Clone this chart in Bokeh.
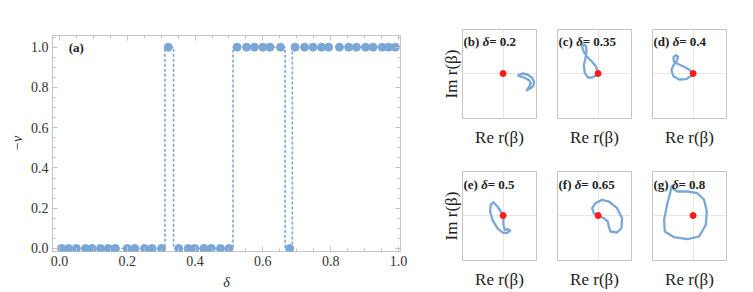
from bokeh.plotting import figure
from bokeh.layouts import row, column
from bokeh.models import (Range1d, LinearAxis, FixedTicker, Label, SingleIntervalTicker,
                          PrintfTickFormatter, CustomJSTickFormatter)
from bokeh.embed import file_html
from bokeh.resources import INLINE

# ---------------- data ----------------
delta = [0.006, 0.027, 0.05, 0.077, 0.096, 0.121, 0.144, 0.165, 0.2, 0.222, 0.251, 0.273, 0.301,
         0.321,
         0.352, 0.38, 0.399, 0.426, 0.448, 0.475, 0.5,
         0.524, 0.552, 0.575, 0.6, 0.621, 0.652,
         0.679,
         0.695, 0.723, 0.748, 0.773, 0.794, 0.826, 0.853, 0.876, 0.903, 0.925, 0.952, 0.971, 0.991]
minus_nu = [0] * 13 + [1] + [0] * 7 + [1] * 6 + [0] + [1] * 13

tick_step = 0.2

# r(beta) curves (Re, Im), arbitrary units
b_re = [15, 19.3, 24.3, 28.7, 31, 30, 26.7, 23.7, 26, 27.7, 26, 21, 16, 15]
b_im = [-1.7, 0, -1, -4, -8.3, -12.7, -15.3, -16.7, -13.3, -10, -6.7, -4, -2.7, -1.7]

c_re = [0, -2, -6, -11, -14.3, -16, -14.3, -12, -11.7, -12.7, -14.3, -13.3, -10.3, -6, -1.7, 0]
c_im = [0, 6.7, 11.7, 16.7, 21.7, 26.7, 29, 27.3, 21.7, 15, 8.3, 0.7, -4, -4, -1.7, 0]

d_re = [0, -4, -9, -14, -19, -19.7, -17.3, -15, -16.3, -19.7, -21.7, -19.7, -14, -7.3, -2.3, 0]
d_im = [0, 4, 6.7, 9, 11.7, 16, 18.3, 16.7, 12.7, 8.3, 3.3, -2.7, -6, -5.7, -2.7, 0]

e_re = [0, -2.3, -5.7, -9.7, -12.3, -13, -10.7, -5.7, -0.7, 3.7, 7, 5, 1.7, 0.3, 0.3, 0]
e_im = [0, 4, 9, 13.3, 10.7, 4, -4.3, -12.7, -17, -17.7, -15, -13.7, -14.3, -9.3, -2.7, 0]

f_re = [0, -4.3, -6, -2.7, 4, 10.7, 19, 24, 23.3, 19, 12.3, 10.7, 9.7, 5.7, 0]
f_im = [0, 2.3, 7.3, 12.3, 15.7, 14, 7.3, -2.7, -12.7, -17, -16, -11, -6, -2.7, 0]

g_re = [-20.7, -15.7, -5.7, 4.3, 11, 13.7, 12.7, 6, -5.7, -19, -28.3, -29, -25.7, -23, -21.7, -20.3, -19.7, -20.7]
g_im = [27.3, 24, 24, 22.3, 15.7, 4, -9.3, -21, -23.7, -21.7, -16, -4.3, 12.3, 22.3, 29, 29.7, 26.3, 27.3]

origin_re = [0.0]
origin_im = [0.0]

panel_tags = ["b", "c", "d", "e", "f", "g"]
panel_delta = ["0.2", "0.35", "0.4", "0.5", "0.65", "0.8"]
panel_curves = [(b_re, b_im), (c_re, c_im), (d_re, d_im), (e_re, e_im), (f_re, f_im), (g_re, g_im)]

# ---------------- style ----------------
BLUE = "#7ba7d6"
FRAME = "#c4c4c4"
SERIF = "Liberation Serif, serif"
TXT = "#222222"
# Times-Bold advance widths (per em) for building the mixed-style titles
BOLD_W = {"(": 0.333, ")": 0.333, " ": 0.25, "b": 0.556, "c": 0.444, "d": 0.556,
          "e": 0.444, "f": 0.333, "g": 0.5}
TITLE_PX = 13

# ---------------- main panel (a) ----------------
p = figure(width=418, height=292, output_backend="svg", toolbar_location=None,
           x_range=Range1d(-0.0206, 1.006), y_range=Range1d(-0.015, 1.058),
           min_border_left=52, min_border_right=18, min_border_top=35, min_border_bottom=41)
p.step(delta, minus_nu, mode="center", line_color=BLUE, line_width=1.6, line_dash="3 2")
p.scatter(delta, minus_nu, size=8, color=BLUE)

p.xgrid.visible = False
p.ygrid.visible = False
p.outline_line_color = FRAME


def style_axis(ax, show_labels=True):
    ax.ticker = SingleIntervalTicker(interval=tick_step, num_minor_ticks=4)
    ax.axis_line_color = None
    ax.major_tick_line_color = FRAME
    ax.minor_tick_line_color = FRAME
    ax.major_tick_in = 5
    ax.major_tick_out = 0
    ax.minor_tick_in = 3
    ax.minor_tick_out = 0
    ax.major_label_text_font = SERIF
    ax.major_label_text_font_size = "14px"
    ax.major_label_text_color = "#333333"
    ax.major_label_standoff = 4
    if show_labels:
        ax.formatter = PrintfTickFormatter(format="%.1f")
    else:
        ax.formatter = CustomJSTickFormatter(code="return ''")
        ax.major_label_standoff = 0


xb = p.below[0]
yl = p.left[0]
style_axis(xb)
style_axis(yl)
xb.axis_label = "δ"
yl.axis_label = "−ν"
for ax in (xb, yl):
    ax.axis_label_text_font = SERIF
    ax.axis_label_text_font_style = "italic"
    ax.axis_label_text_font_size = "14px"
    ax.axis_label_text_color = TXT
xb.axis_label_standoff = 6
yl.axis_label_standoff = 3

top = LinearAxis()
style_axis(top, show_labels=False)
p.add_layout(top, "above")
right = LinearAxis()
style_axis(right, show_labels=False)
p.add_layout(right, "right")

p.add_layout(Label(x=0.027, y=1.0, text="(a)", text_font=SERIF, text_font_style="bold",
                   text_font_size="13px", text_baseline="middle", text_color=TXT))

# ---------------- small panels ----------------
XR = (-40.6, 33.4)
YR = (-45, 44)


def small(tag, dval, xs, ys, first_col, top_border, bottom_border, title_dy):
    bl = 44 if first_col else 11
    w = bl + 74 + 10
    f = figure(width=w, height=top_border + 89 + bottom_border, output_backend="svg",
               toolbar_location=None, x_range=Range1d(*XR), y_range=Range1d(*YR),
               min_border_left=bl, min_border_right=10, min_border_top=top_border,
               min_border_bottom=bottom_border)
    f.outline_line_color = FRAME
    f.xaxis.ticker = FixedTicker(ticks=origin_re)
    f.yaxis.ticker = FixedTicker(ticks=origin_im)
    f.xgrid.ticker = FixedTicker(ticks=origin_re)
    f.ygrid.ticker = FixedTicker(ticks=origin_im)
    for g in (f.xgrid[0], f.ygrid[0]):
        g.grid_line_color = "#e6e6e6"
        g.grid_line_width = 1
    f.line(xs, ys, line_color=BLUE, line_width=2.3, line_join="round", line_cap="round")
    f.scatter(origin_re, origin_im, size=6, color="#ff1a1a")
    axes = [f.xaxis[0]]
    if first_col:
        axes.append(f.yaxis[0])
    else:
        f.yaxis.visible = False
    for ax in axes:
        ax.axis_line_color = None
        ax.major_tick_line_color = None
        ax.minor_tick_line_color = None
        ax.major_tick_in = 0
        ax.major_tick_out = 0
        ax.minor_tick_in = 0
        ax.minor_tick_out = 0
        ax.formatter = CustomJSTickFormatter(code="return ''")
        ax.major_label_standoff = 0
        ax.axis_label_text_font = SERIF
        ax.axis_label_text_font_style = "normal"
        ax.axis_label_text_font_size = "17px"
        ax.axis_label_text_color = TXT
    f.xaxis[0].axis_label = "Re r(β)"
    f.xaxis[0].axis_label_standoff = 9
    if first_col:
        f.yaxis[0].axis_label = "Im r(β)"
        f.yaxis[0].axis_label_standoff = 2
    # title: "(x) " bold, "δ" bold italic, "= value" bold
    head = "(" + tag + ") "
    w1 = sum(BOLD_W[ch] for ch in head) * TITLE_PX
    w2 = 0.5 * TITLE_PX
    parts = [(head, 0, "bold"), ("δ", w1, "bold italic"), ("= " + dval, w1 + w2, "bold")]
    for txt, dx, style in parts:
        f.add_layout(Label(x=XR[0], y=YR[1], x_offset=1 + dx, y_offset=-title_dy, text=txt,
                           text_font=SERIF, text_font_style=style,
                           text_font_size=f"{TITLE_PX}px",
                           text_baseline="top", text_color=TXT))
    return f


row1 = [small(panel_tags[i], panel_delta[i], *panel_curves[i], i == 0, 29, 32, 4)
        for i in range(3)]
row2 = [small(panel_tags[i], panel_delta[i], *panel_curves[i], i == 3, 21, 32, 5)
        for i in range(3, 6)]

layout = row(p, column(row(*row1, spacing=0), row(*row2, spacing=0), spacing=0), spacing=0)

open("out.html", "w").write(file_html(layout, INLINE))
